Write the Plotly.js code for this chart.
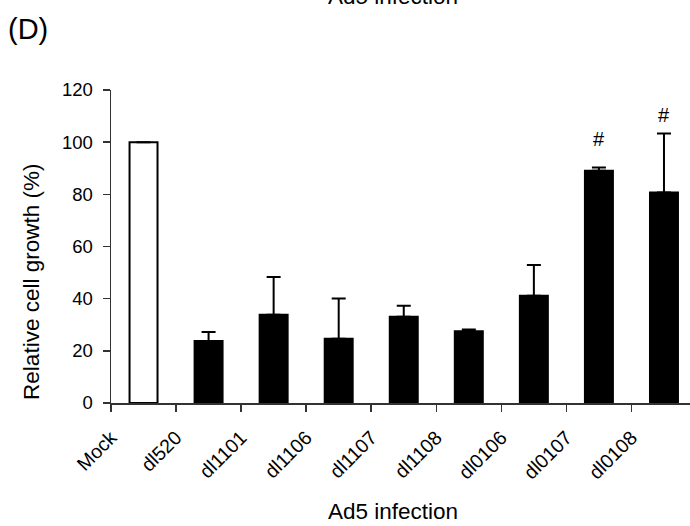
<!DOCTYPE html>
<html>
<head>
<meta charset="utf-8">
<script src="https://cdn.plot.ly/plotly-3.0.1.min.js"></script>
<style>html,body{margin:0;padding:0;background:#fff;}#chart{width:690px;height:526px;}</style>
</head>
<body>
<div id="chart"></div>
<script>
const categories = ["Mock","dl520","dl1101","dl1106","dl1107","dl1108","dl0106","dl0107","dl0108"];
const growth = [100, 23.8, 33.8, 24.6, 33.1, 27.5, 41.1, 89.0, 80.7];
const errorUpper = [0, 3.4, 14.5, 15.5, 4.2, 0.7, 11.8, 1.3, 22.6];
const markLabels = ["", "", "", "", "", "", "", "#", "#"];
const markHeights = [null, null, null, null, null, null, null, 101.3, 110.5];

const xpos = categories.map((c, i) => i + 0.5);
const fillColors = categories.map((c, i) => i === 0 ? "#ffffff" : "#000000");

const font = "Liberation Sans, Arial, Helvetica, sans-serif";

const trace = {
  type: "bar",
  x: xpos,
  y: growth,
  width: 0.43,
  marker: {color: fillColors, line: {color: "#000", width: 2}},
  error_y: {type: "data", symmetric: false, array: errorUpper, arrayminus: errorUpper.map(() => 0),
            color: "#000", thickness: 2, width: 7},
  hoverinfo: "skip"
};

const annotations = [];
markLabels.forEach((m, i) => {
  if (m) annotations.push({x: xpos[i], y: markHeights[i], xref: "x", yref: "y", text: m,
    showarrow: false, font: {family: font, size: 20, color: "#000"}});
});
annotations.push({x: -0.1434, y: 1.195, xref: "paper", yref: "paper", xanchor: "center", yanchor: "middle",
  text: "(D)", showarrow: false, font: {family: font, size: 29, color: "#000"}});
annotations.push({x: 0.487, y: 1.30, xref: "paper", yref: "paper", xanchor: "center", yanchor: "middle",
  text: "Ad5 infection", showarrow: false, font: {family: font, size: 22.5, color: "#000"}});
annotations.push({x: 0.487, y: -0.348, xref: "paper", yref: "paper", xanchor: "center", yanchor: "middle",
  text: "Ad5 infection", showarrow: false, font: {family: font, size: 22.5, color: "#000"}});
annotations.push({x: -0.1364, y: 0.387, xref: "paper", yref: "paper", xanchor: "center", yanchor: "middle",
  textangle: -90, text: "Relative cell growth (%)", showarrow: false, font: {family: font, size: 22.5, color: "#000"}});

const layout = {
  width: 690, height: 526,
  margin: {l: 111, r: 0, t: 90, b: 123},
  paper_bgcolor: "#fff", plot_bgcolor: "#fff",
  showlegend: false,
  font: {family: font, color: "#000"},
  xaxis: {
    range: [0, 8.9],
    tickmode: "array", tickvals: categories.map((c, i) => i), ticktext: categories,
    tickangle: -45, ticks: "outside", ticklen: 7, tickwidth: 1.5, tickcolor: "#333",
    showline: true, linecolor: "#333", linewidth: 1.5, showgrid: false, zeroline: false,
    ticklabelstandoff: 7,
    tickfont: {family: font, size: 19.5, color: "#000"}
  },
  yaxis: {
    range: [0, 120], tickvals: [0, 20, 40, 60, 80, 100, 120],
    ticks: "outside", ticklen: 7, tickwidth: 1.5, tickcolor: "#333",
    showline: true, linecolor: "#333", linewidth: 1.5, showgrid: false, zeroline: false,
    ticklabelstandoff: 6,
    tickfont: {family: font, size: 18.5, color: "#000"}
  },
  annotations: annotations
};

Plotly.newPlot("chart", [trace], layout, {displayModeBar: false, staticPlot: true});
</script>
</body>
</html>
